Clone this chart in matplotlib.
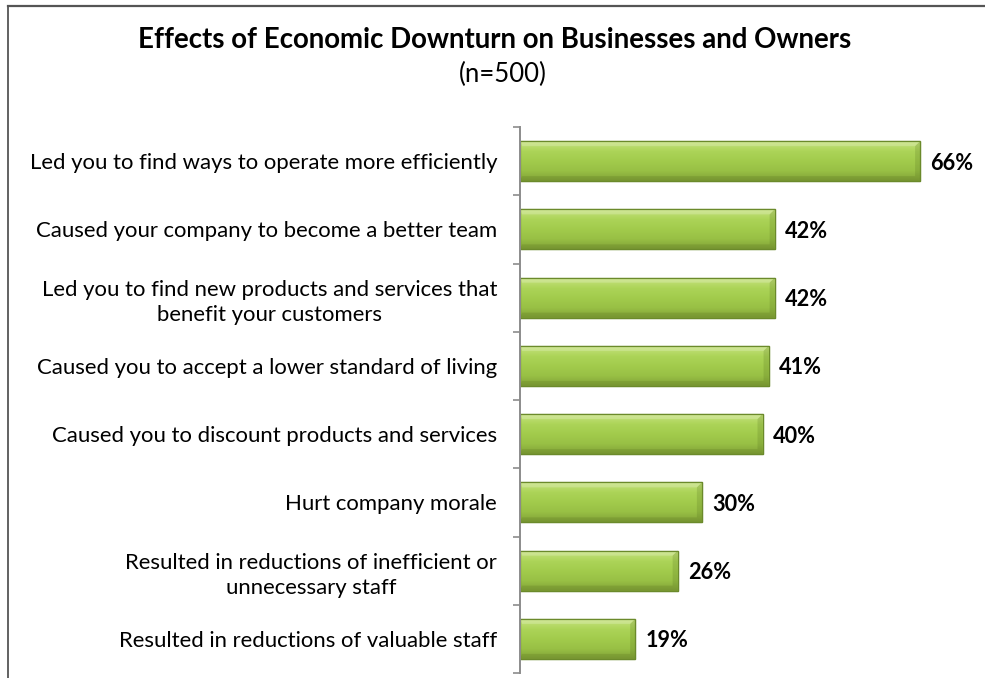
import numpy as np
import matplotlib
matplotlib.use("Agg")
import matplotlib.pyplot as plt
from matplotlib.patches import Polygon, Rectangle
from matplotlib.colors import LinearSegmentedColormap
from matplotlib.lines import Line2D

# ---- data -------------------------------------------------------------
categories = [
    "Led you to find ways to operate more efficiently",
    "Caused your company to become a better team",
    "Led you to find new products and services that\nbenefit your customers",
    "Caused you to accept a lower standard of living",
    "Caused you to discount products and services",
    "Hurt company morale",
    "Resulted in reductions of inefficient or\nunnecessary staff",
    "Resulted in reductions of valuable staff",
]
values = [66, 42, 42, 41, 40, 30, 26, 19]
value_labels = [f"{v}%" for v in values]

title = "Effects of Economic Downturn on Businesses and Owners"
subtitle = "(n=500)"

# ---- figure / axes ----------------------------------------------------
W, H = 985, 678
fig = plt.figure(figsize=(W / 100, H / 100), dpi=100)
fig.patch.set_facecolor("white")

px_left, px_right, px_top, px_bottom = 520, 985, 127, 673
ax = fig.add_axes([px_left / W, (H - px_bottom) / H,
                   (px_right - px_left) / W, (px_bottom - px_top) / H])
xmax = 76.7
n = len(categories)
ax.set_xlim(0, xmax)
ax.set_ylim(n - 0.5, -0.5)

# pixel -> data conversions for the bevel details
px_x = xmax / (px_right - px_left)
px_y = n / (px_bottom - px_top)

bar_h = 0.586
grad = LinearSegmentedColormap.from_list(
    "leaf", ["#c6e27e", "#acd458", "#a2cb4c", "#98c045", "#82a237"])
grad_img = np.linspace(0, 1, 64).reshape(-1, 1)

bars = ax.barh(range(n), values, height=bar_h, color="#a2cb4c",
               edgecolor="#6b8a2b", linewidth=0.9, zorder=2)

for i, (bar, v) in enumerate(zip(bars, values)):
    y0 = i - bar_h / 2   # visual top
    y1 = i + bar_h / 2   # visual bottom
    im = ax.imshow(grad_img, cmap=grad, aspect="auto",
                   extent=(0, v, y1, y0), zorder=2.1, interpolation="bicubic")
    im.set_clip_path(bar)
    bx, by = 5 * px_x, 5 * px_y
    # right-hand bevel
    ax.add_patch(Polygon([(v, y0), (v, y1), (v - bx, y1 - by), (v - bx, y0 + by)],
                         closed=True, facecolor="#4f6a1a", alpha=0.2,
                         edgecolor="none", zorder=2.2))
    # top highlight
    ax.add_patch(Polygon([(0, y0), (v, y0), (v - bx, y0 + by), (bx * 0.4, y0 + by)],
                         closed=True, facecolor="white", alpha=0.2,
                         edgecolor="none", zorder=2.2))
    # bottom shade
    ax.add_patch(Polygon([(0, y1), (v, y1), (v - bx, y1 - by), (bx * 0.4, y1 - by)],
                         closed=True, facecolor="#3e5412", alpha=0.15,
                         edgecolor="none", zorder=2.2))
    # edge on top of overlays
    ax.add_patch(Rectangle((0, y0), v, bar_h, facecolor="none",
                           edgecolor="#6b8a2b", linewidth=0.9, zorder=2.3))
    ax.text(v + 10 * px_x, i + 0.03, value_labels[i], ha="left", va="center",
            fontsize=15.6, fontweight="bold", family="Lato", color="black")

# ---- axis styling -----------------------------------------------------
for side in ("top", "right", "bottom"):
    ax.spines[side].set_visible(False)
ax.spines["left"].set_color("#8c8c8c")
ax.spines["left"].set_linewidth(1.4)
ax.set_xticks([])
ax.set_yticks(range(n))
ax.set_yticklabels(categories, multialignment="center", family="Lato",
                   fontsize=15.9, color="black", linespacing=1.35)
ax.tick_params(axis="y", which="major", length=0, pad=16.5)
ax.set_yticks(np.arange(-0.5, n, 1.0), minor=True)
ax.tick_params(axis="y", which="minor", length=5, width=1.2, color="#8c8c8c")
ax.set_facecolor("none")

# ---- titles -----------------------------------------------------------
fig.text(495 / W, 1 - 48 / H, title, ha="center", va="baseline",
         fontsize=19.9, fontweight="bold", family="Lato")
fig.text(503 / W, 1 - 82 / H, subtitle, ha="center", va="baseline",
         fontsize=18.5, family="Lato")

# ---- outer frame ------------------------------------------------------
fig.add_artist(Line2D([7.5 / W, 7.5 / W], [0, 1 - 5.8 / H],
                      transform=fig.transFigure, color="#555555", linewidth=1.3))
fig.add_artist(Line2D([7.5 / W, 1.0], [1 - 5.8 / H, 1 - 5.8 / H],
                      transform=fig.transFigure, color="#555555", linewidth=1.6))
fig.text(10 / W, 1 + 2.5 / H, "g", ha="left", va="baseline",
         fontsize=12, family="Lato")

fig.savefig("out.png", dpi=100)
